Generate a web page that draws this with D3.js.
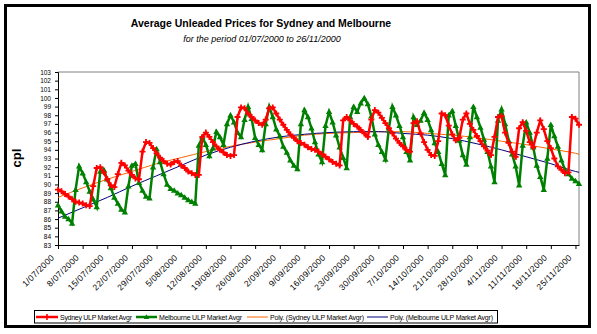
<!DOCTYPE html>
<html><head><meta charset="utf-8">
<script src="https://cdn.jsdelivr.net/npm/d3@7"></script>
<style>
body{margin:0;background:#fff}
svg{display:block}
text{font-family:"Liberation Sans",Arial,sans-serif;fill:#000}
</style></head>
<body><svg id="chart" width="597" height="334"></svg>
<script>
// ---- data ----
const startDate = new Date(2000, 6, 1);
const endDate = new Date(2000, 10, 27);
const sydney = [
89.4,89.2,88.9,88.6,88.3,88.0,87.9,87.8,87.6,87.5,
89.8,91.9,92.0,91.4,90.6,89.9,89.7,91.2,92.5,92.2,
91.6,91.1,90.7,90.6,93.8,94.9,94.8,94.2,93.6,93.1,
92.7,92.4,92.3,92.6,92.7,92.2,91.9,91.5,91.3,91.1,
91.1,95.5,96.0,95.5,94.9,94.4,94.0,93.7,93.4,93.3,
93.4,97.8,98.9,98.8,98.2,97.8,97.4,97.1,96.9,97.5,
98.8,98.9,98.2,97.5,96.9,96.3,95.8,95.4,95.0,94.8,
94.6,94.3,94.1,94.0,93.8,93.5,93.2,92.9,92.6,92.4,
92.2,97.4,97.8,97.4,97.0,96.7,96.3,95.9,95.5,97.5,
98.6,98.3,97.7,97.1,96.5,95.9,95.3,94.8,94.4,94.0,
93.8,97.1,97.3,95.9,94.9,94.0,93.4,93.3,95.0,98.2,
98.0,96.8,95.8,95.1,95.4,97.5,98.2,97.0,96.3,95.6,
95.0,94.4,93.9,93.4,95.5,97.8,97.9,96.0,94.8,93.8,
93.2,96.5,97.2,96.2,94.9,94.3,96.0,97.4,96.4,95.0,
94.2,93.0,92.1,91.7,91.3,91.4,97.8,97.6,96.9];
const melbourne = [
87.6,86.9,86.3,86.0,85.5,89.4,92.1,91.3,90.3,89.2,
88.3,87.4,91.5,91.7,90.6,89.6,88.5,87.8,87.1,86.8,
89.8,92.2,92.4,90.2,89.3,88.6,88.4,92.0,94.1,92.6,
91.2,90.0,89.5,89.3,89.0,88.8,88.5,88.2,88.0,87.8,
94.5,95.5,94.6,93.3,94.2,96.1,95.5,94.6,97.0,98.0,
97.2,96.0,95.5,97.5,99.0,97.6,95.4,94.6,94.0,97.0,
99.0,97.8,96.4,95.6,94.4,93.7,92.8,92.2,91.8,97.0,
98.6,97.8,96.5,94.9,93.5,92.6,96.8,98.4,97.2,95.7,
94.3,93.1,91.9,97.8,99.0,98.4,99.4,100.0,99.3,97.9,
95.8,94.6,93.8,92.9,96.5,99.0,98.0,96.8,95.5,93.8,
92.8,97.8,96.9,97.4,98.3,97.5,96.3,94.8,93.8,92.4,
91.1,98.0,98.5,96.8,95.1,93.4,92.3,95.5,99.0,97.8,
96.6,95.2,93.8,92.1,90.3,97.4,98.7,97.0,95.1,93.5,
92.1,89.9,94.5,97.2,96.0,94.3,92.2,90.9,89.4,93.0,
96.9,95.6,94.4,92.8,91.7,91.2,90.7,90.4,90.1];
// polynomial trend lines at each weekly tick and the last day
const trendDays = [0,7,14,21,28,35,42,49,56,63,70,77,84,91,98,105,112,119,126,133,140,147,148];
const sydneyTrend = [88.5,89.6,90.6,91.5,92.4,93.1,93.8,94.4,94.9,95.3,95.7,95.9,96.0,96.1,96.1,95.9,95.7,95.4,95.0,94.6,94.1,93.6,93.5];
const melbourneTrend = [86.1,87.3,88.5,89.8,91.0,92.2,93.4,94.3,95.0,95.5,95.8,96.0,96.1,96.1,95.9,95.7,95.3,94.7,94.0,93.2,92.4,91.5,91.4];
const yTicks = [83,84,85,86,87,88,89,90,91,92,93,94,95,96,97,98,99,100,101,102,103];
const tickLabels = ["1/07/2000","8/07/2000","15/07/2000","22/07/2000","29/07/2000","5/08/2000","12/08/2000","19/08/2000","26/08/2000","2/09/2000","9/09/2000","16/09/2000","23/09/2000","30/09/2000","7/10/2000","14/10/2000","21/10/2000","28/10/2000","4/11/2000","11/11/2000","18/11/2000","25/11/2000"];
const seriesNames = ["Sydney ULP Market Avgr","Melbourne ULP Market Avgr","Poly. (Sydney ULP Market Avgr)","Poly. (Melbourne ULP Market Avgr)"];

// ---- helpers ----
const fmt = d3.timeFormat("%-d/%m/%Y");
const categories = d3.timeDay.range(startDate, endDate).map(fmt);

// ---- layout ----
const svg = d3.select("#chart");
const L = 58, R = 579, T = 72, B = 245;
const x = d3.scalePoint().domain(categories).range([L, R]);
const y = d3.scaleLinear().domain([83,103]).range([B, T]);

svg.append("rect").attr("x",0).attr("y",0).attr("width",597).attr("height",334).attr("fill","#fff");
svg.append("rect").attr("x",5.5).attr("y",5.5).attr("width",584).attr("height",321)
  .attr("fill","none").attr("stroke","#000").attr("stroke-width",3);

// titles
svg.append("text").attr("x",261).attr("y",27).attr("text-anchor","middle")
  .style("font-size","10.5px").style("font-weight","bold")
  .text("Average Unleaded Prices for Sydney and Melbourne");
svg.append("text").attr("x",262).attr("y",42).attr("text-anchor","middle")
  .style("font-size","9px").style("font-style","italic")
  .text("for the period 01/07/2000 to 26/11/2000");

// y label
svg.append("text").attr("transform","translate(21,158) rotate(-90)").attr("text-anchor","middle")
  .style("font-size","13px").style("font-weight","bold").text("cpl");

// plot frame (top/right gray)
svg.append("path").attr("d",`M${L},${T}H${R}V${B}`).attr("fill","none").attr("stroke","#808080").attr("stroke-width",1);

// y axis
const yAxis = d3.axisLeft(y).tickValues(yTicks).tickSize(3).tickPadding(4).tickFormat(d3.format("d"));
const ga = svg.append("g").attr("transform",`translate(${L},0)`).call(yAxis);
ga.select(".domain").attr("stroke","#000");
ga.selectAll("text").style("font-size","6.5px").style("font-family","'Liberation Sans',Arial,sans-serif");

// x axis
const xAxis = d3.axisBottom(x).tickValues(tickLabels).tickSize(4).tickSizeOuter(0).tickFormat("");
const gx = svg.append("g").attr("transform",`translate(0,${B})`).call(xAxis);
gx.select(".domain").attr("stroke","#000");
svg.append("g").selectAll("text").data(tickLabels).join("text")
  .attr("transform",d=>`translate(${x(d)-3},${B+13}) rotate(-45)`)
  .attr("text-anchor","end").style("font-size","8.5px").style("letter-spacing","0.4px")
  .text(d=>d);

// trend lines
const trendGen = d3.line().x((d,i)=>x(categories[trendDays[i]])).y(d=>y(d)).curve(d3.curveMonotoneX);
svg.append("path").datum(sydneyTrend).attr("d",trendGen).attr("fill","none").attr("stroke","#FF6600").attr("stroke-width",1);
svg.append("path").datum(melbourneTrend).attr("d",trendGen).attr("fill","none").attr("stroke","#000080").attr("stroke-width",1);

// series
const lineGen = d3.line().x((d,i)=>x(categories[i])).y(d=>y(d));
function drawSeries(data,color,marker){
  svg.append("path").datum(data).attr("d",lineGen).attr("fill","none").attr("stroke",color).attr("stroke-width",2.5);
  const g = svg.append("g");
  data.forEach((v,i)=>{
    const cx = x(categories[i]), cy = y(v);
    if(marker==="cross"){
      g.append("path").attr("d",`M${cx-3},${cy}H${cx+3}M${cx},${cy-3}V${cy+3}`)
        .attr("stroke",color).attr("stroke-width",1.8);
    } else {
      g.append("path").attr("d",`M${cx},${cy-3.2}L${cx+3.2},${cy+2.3}L${cx-3.2},${cy+2.3}Z`).attr("fill",color);
    }
  });
}
drawSeries(melbourne,"#008000","tri");
drawSeries(sydney,"#FF0000","cross");

// legend
const lg = svg.append("g");
lg.append("rect").attr("x",34.5).attr("y",310.5).attr("width",463).attr("height",12.5)
  .attr("fill","#fff").attr("stroke","#000").attr("stroke-width",1);
const items = [
  {name:seriesNames[0],c:"#FF0000",x0:36,x1:58,tx:60,tl:72,w:2.5,m:"cross"},
  {name:seriesNames[1],c:"#008000",x0:136,x1:157,tx:159,tl:83,w:2.5,m:"tri"},
  {name:seriesNames[2],c:"#FF6600",x0:247,x1:268,tx:270,tl:94,w:1,m:null},
  {name:seriesNames[3],c:"#000080",x0:367,x1:388,tx:390,tl:103,w:1,m:null}
];
const ly = 317;
items.forEach(it=>{
  lg.append("line").attr("x1",it.x0).attr("x2",it.x1).attr("y1",ly).attr("y2",ly).attr("stroke",it.c).attr("stroke-width",it.w);
  const cx=(it.x0+it.x1)/2;
  if(it.m==="cross") lg.append("path").attr("d",`M${cx-2.5},${ly}H${cx+2.5}M${cx},${ly-3}V${ly+3}`).attr("stroke",it.c).attr("stroke-width",1.6);
  if(it.m==="tri") lg.append("path").attr("d",`M${cx},${ly-2.8}L${cx+2.8},${ly+2}L${cx-2.8},${ly+2}Z`).attr("fill",it.c);
  lg.append("text").attr("x",it.tx).attr("y",ly+2.5).style("font-size","7px")
    .attr("textLength",it.tl).attr("lengthAdjust","spacing").text(it.name);
});
</script></body></html>
